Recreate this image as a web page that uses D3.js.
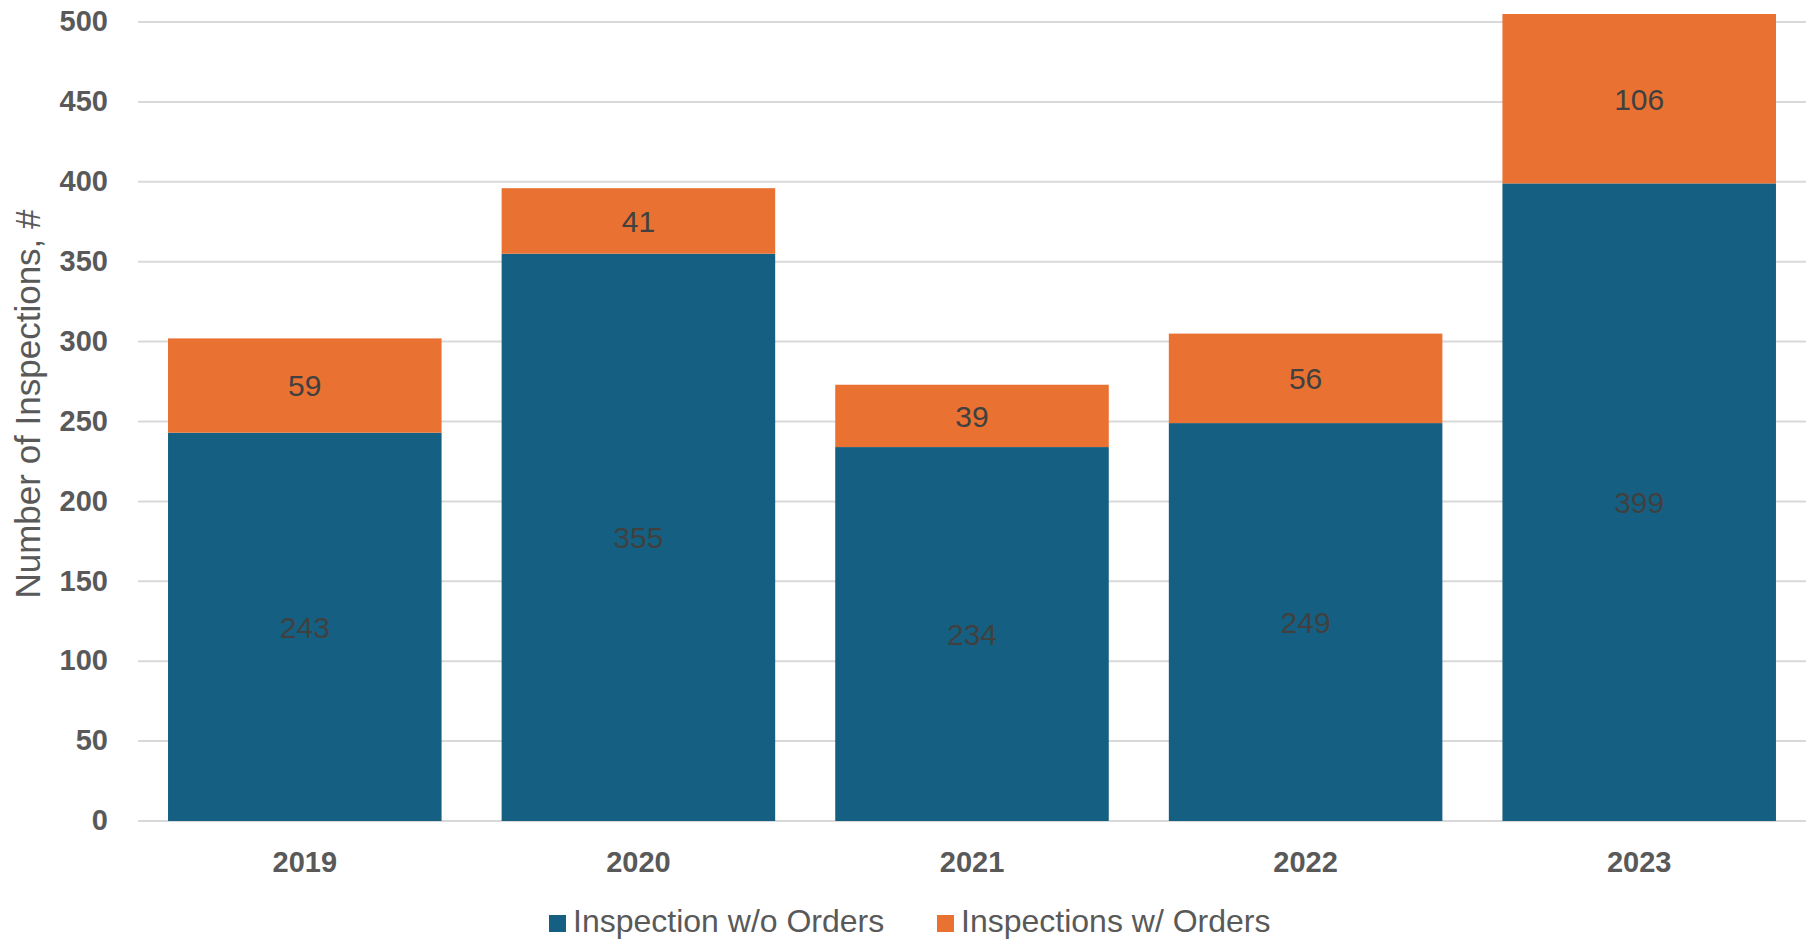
<!DOCTYPE html>
<html>
<head>
<meta charset="utf-8">
<script src="https://cdn.jsdelivr.net/npm/d3@7"></script>
<style>
    body { margin: 0; background: #fff; }
    text { font-family: "Liberation Sans", Arial, sans-serif; }
</style>
</head>
<body>
<svg id="chart" width="1810" height="942"></svg>
<script>
var years = ['2019', '2020', '2021', '2022', '2023'];
var withoutOrders = [243, 355, 234, 249, 399];
var withOrders = [59, 41, 39, 56, 106];
var seriesNames = ['Inspection w/o Orders', 'Inspections w/ Orders'];
var seriesColors = ['#156082', '#e97132'];
var yTicks = [0, 50, 100, 150, 200, 250, 300, 350, 400, 450, 500];

var plotLeft = 138, plotRight = 1806, plotTop = 22, plotBottom = 821;

var svg = d3.select('#chart');

var x = d3.scaleBand()
    .domain(years)
    .range([plotLeft, plotRight])
    .paddingInner(0.18)
    .paddingOuter(0.09);

var y = d3.scaleLinear()
    .domain([0, 500])
    .range([plotBottom, plotTop]);

// gridlines
svg.append('g')
    .selectAll('line')
    .data(yTicks)
    .join('line')
    .attr('x1', plotLeft)
    .attr('x2', plotRight)
    .attr('y1', function(d) { return y(d); })
    .attr('y2', function(d) { return y(d); })
    .attr('stroke', '#d9d9d9')
    .attr('stroke-width', 2);

// y axis labels
var yAxis = svg.append('g')
    .attr('transform', 'translate(' + (plotLeft - 30) + ',0)')
    .call(d3.axisLeft(y).tickValues(yTicks).tickSize(0).tickPadding(0));
yAxis.select('.domain').remove();
yAxis.selectAll('text')
    .attr('font-size', 29)
    .attr('font-weight', 'bold')
    .attr('fill', '#595959')
    .attr('dy', '0.3em')
    .style('font-family', '"Liberation Sans", Arial, sans-serif');

// x axis labels
var xAxis = svg.append('g')
    .attr('transform', 'translate(0,' + plotBottom + ')')
    .call(d3.axisBottom(x).tickSize(0).tickPadding(0));
xAxis.select('.domain').remove();
xAxis.selectAll('text')
    .attr('font-size', 29)
    .attr('font-weight', 'bold')
    .attr('fill', '#595959')
    .attr('y', 51)
    .attr('dy', 0)
    .style('font-family', '"Liberation Sans", Arial, sans-serif');

// stacked data
var rows = years.map(function(yr, i) {
    return { year: yr, without: withoutOrders[i], with: withOrders[i] };
});
var stack = d3.stack().keys(['without', 'with']);
var series = stack(rows);

var groups = svg.append('g')
    .selectAll('g')
    .data(series)
    .join('g')
    .attr('fill', function(d, i) { return seriesColors[i]; });

groups.selectAll('rect')
    .data(function(d) { return d; })
    .join('rect')
    .attr('x', function(d) { return x(d.data.year); })
    .attr('width', x.bandwidth())
    .attr('y', function(d) { return y(d[1]); })
    .attr('height', function(d) { return y(d[0]) - y(d[1]); });

// value labels
groups.selectAll('text')
    .data(function(d) { return d; })
    .join('text')
    .attr('x', function(d) { return x(d.data.year) + x.bandwidth() / 2; })
    .attr('y', function(d) { return (y(d[0]) + y(d[1])) / 2; })
    .attr('dy', '0.36em')
    .attr('text-anchor', 'middle')
    .attr('font-size', 30)
    .attr('fill', '#404040')
    .text(function(d) { return d[1] - d[0]; });

// y axis title
svg.append('text')
    .attr('transform', 'translate(40,404) rotate(-90)')
    .attr('text-anchor', 'middle')
    .attr('font-size', 35)
    .attr('fill', '#595959')
    .text('Number of Inspections, #');

// legend
var legendX = [549, 937];
var legend = svg.append('g')
    .selectAll('g')
    .data(seriesNames)
    .join('g')
    .attr('transform', function(d, i) { return 'translate(' + legendX[i] + ',915)'; });

legend.append('rect')
    .attr('width', 17)
    .attr('height', 17)
    .attr('fill', function(d, i) { return seriesColors[i]; });

legend.append('text')
    .attr('x', 24)
    .attr('y', 17)
    .attr('font-size', 32)
    .attr('fill', '#595959')
    .text(function(d) { return d; });
</script>
</body>
</html>
